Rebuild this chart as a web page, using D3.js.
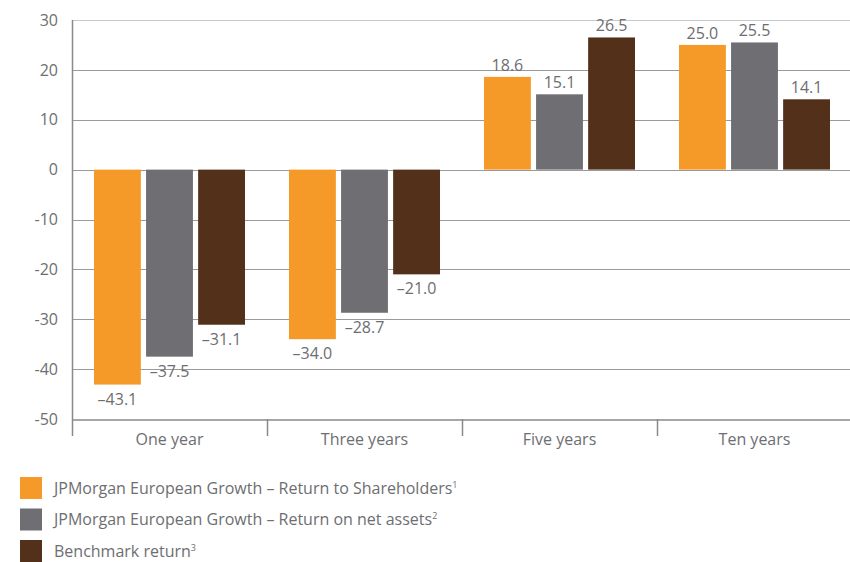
<!DOCTYPE html>
<html>
<head>
<meta charset="utf-8">
<script src="https://d3js.org/d3.v7.min.js"></script>
<style>
  body { margin: 0; background: #fff; }
  text { font-family: "Open Sans", "DejaVu Sans", sans-serif; fill: #6d6e71; }
</style>
</head>
<body>
<div id="chart"></div>
<script>
// data
var periods = ["One year", "Three years", "Five years", "Ten years"];
var seriesNames = [
  "JPMorgan European Growth \u2013 Return to Shareholders",
  "JPMorgan European Growth \u2013 Return on net assets",
  "Benchmark return"
];
var seriesNotes = ["1", "2", "3"];
var shareholders = [-43.1, -34.0, 18.6, 25.0];
var netAssets = [-37.5, -28.7, 15.1, 25.5];
var benchmark = [-31.1, -21.0, 26.5, 14.1];
var yTicks = [30, 20, 10, 0, -10, -20, -30, -40, -50];
var colors = ["#f59a29", "#6f6e72", "#53301a"];

var series = [shareholders, netAssets, benchmark];

var W = 850, H = 562;
var margin = {top: 20, right: 0, bottom: 143, left: 72};

var svg = d3.select("#chart").append("svg")
  .attr("width", W).attr("height", H);

var x = d3.scaleBand().domain(periods)
  .range([margin.left, 852]).padding(0);
var y = d3.scaleLinear().domain([-50, 30])
  .range([H - margin.bottom, margin.top]);
var x1 = d3.scaleBand().domain([0, 1, 2])
  .range([22, 173]).paddingInner(0.1);

// gridlines
svg.append("g").selectAll("line")
  .data(yTicks.filter(function(d) { return d > -50; }))
  .enter().append("line")
  .attr("x1", margin.left).attr("x2", W)
  .attr("y1", function(d) { return Math.round(y(d)) + 0.5; })
  .attr("y2", function(d) { return Math.round(y(d)) + 0.5; })
  .attr("stroke", function(d) { return d === 30 ? "#c8c8c8" : "#9a9a9a"; })
  .attr("stroke-width", 1.2);

// y axis
var yAxis = svg.append("g")
  .attr("transform", "translate(" + margin.left + ",0)")
  .call(d3.axisLeft(y).tickValues(yTicks).tickSize(0).tickPadding(14)
    .tickFormat(function(d) { return String(d); }));
yAxis.select(".domain").remove();
yAxis.selectAll("text").style("font-size", "16px").attr("fill", "#6d6e71");
svg.append("line")
  .attr("x1", margin.left + 0.5).attr("x2", margin.left + 0.5)
  .attr("y1", y(30)).attr("y2", 436)
  .attr("stroke", "#8a8a8a").attr("stroke-width", 1.5);

// x axis
var xAxis = svg.append("g")
  .attr("transform", "translate(0," + (Math.round(y(-50)) + 0.5) + ")")
  .call(d3.axisBottom(x).tickSize(0).tickPadding(14));
xAxis.select(".domain").attr("stroke", "#8a8a8a").attr("stroke-width", 1.5);
xAxis.selectAll("text").style("font-size", "16px").attr("fill", "#6d6e71");
svg.append("g").selectAll("line")
  .data(periods.slice(1))
  .enter().append("line")
  .attr("x1", function(d) { return x(d) + 0.5; })
  .attr("x2", function(d) { return x(d) + 0.5; })
  .attr("y1", y(-50)).attr("y2", 436)
  .attr("stroke", "#8a8a8a").attr("stroke-width", 1.5);

// bars
var groups = svg.append("g").selectAll("g")
  .data(periods).enter().append("g")
  .attr("transform", function(d) { return "translate(" + x(d) + ",0)"; });

groups.each(function(p, i) {
  var g = d3.select(this);
  series.forEach(function(s, k) {
    var v = s[i];
    g.append("rect")
      .attr("x", x1(k))
      .attr("width", x1.bandwidth())
      .attr("y", y(Math.max(0, v)))
      .attr("height", Math.abs(y(v) - y(0)))
      .attr("fill", colors[k]);
    g.append("text")
      .attr("x", x1(k) + x1.bandwidth() / 2)
      .attr("y", v >= 0 ? y(v) - 6 : y(v) + 20)
      .attr("text-anchor", "middle")
      .style("font-size", "16px")
      .text(v < 0 ? "\u2013" + Math.abs(v).toFixed(1) : v.toFixed(1));
  });
});

// legend
var legend = svg.append("g").selectAll("g")
  .data(seriesNames).enter().append("g")
  .attr("transform", function(d, i) { return "translate(20," + (477 + i * 31.5) + ")"; });
legend.append("rect")
  .attr("width", 22).attr("height", 22)
  .attr("fill", function(d, i) { return colors[i]; });
var lt = legend.append("text")
  .attr("x", 34).attr("y", 16.5)
  .style("font-size", "16px");
lt.append("tspan").text(function(d) { return d; });
lt.append("tspan").attr("dy", -6).style("font-size", "9px")
  .text(function(d, i) { return seriesNotes[i]; });
</script>
</body>
</html>
